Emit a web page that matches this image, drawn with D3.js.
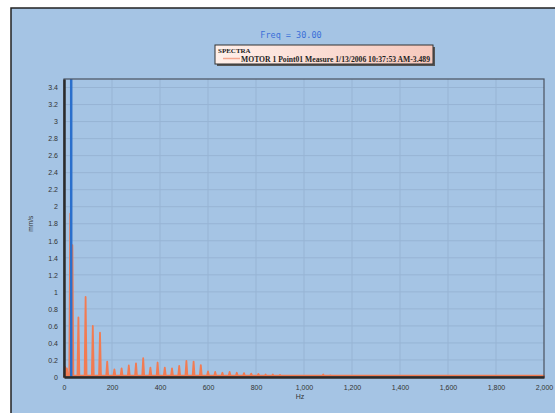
<!DOCTYPE html>
<html>
<head>
<meta charset="utf-8">
<script src="https://cdn.jsdelivr.net/npm/d3@7"></script>
<style>
  body { margin: 0; background: #fff; }
  svg { display: block; }
  .tick text { font-family: "Liberation Sans", Arial, sans-serif; font-size: 7px; fill: #333; }
</style>
</head>
<body>
<svg id="chart" width="555" height="413"></svg>
<script>
// spectrum peaks, Hz / amplitude
var peakFreqs = [5, 12, 26, 35, 60, 90, 120, 150, 180, 210, 240, 270, 300, 330, 360, 390, 420, 450, 480, 510, 540, 570,
                 600, 630, 660, 690, 720, 750, 780, 810, 840, 870, 900, 1080, 1110];
var peakAmps = [0.12, 0.10, 1.92, 1.55, 0.70, 0.94, 0.60, 0.52, 0.18, 0.09, 0.10, 0.135, 0.16, 0.22, 0.11, 0.17, 0.11, 0.10, 0.13, 0.19, 0.18, 0.14,
                0.065, 0.06, 0.05, 0.06, 0.05, 0.045, 0.04, 0.035, 0.03, 0.03, 0.025, 0.03, 0.02];
var baseline = 0.015;
var markerFreq = 30;
var xTicks = [0, 200, 400, 600, 800, 1000, 1200, 1400, 1600, 1800, 2000];
var yTicks = [0, 0.2, 0.4, 0.6, 0.8, 1, 1.2, 1.4, 1.6, 1.8, 2, 2.2, 2.4, 2.6, 2.8, 3, 3.2, 3.4];

var svg = d3.select("#chart");
var margin = { top: 79, right: 11, bottom: 36, left: 64 };
var width = 555 - margin.left - margin.right;
var height = 413 - margin.top - margin.bottom;

// outer panel
svg.append("rect").attr("x", 11).attr("y", 8).attr("width", 555).attr("height", 420)
    .attr("fill", "#a5c4e4").attr("stroke", "#222").attr("stroke-width", 1.5);

var xScale = d3.scaleLinear().domain([0, 2000]).range([0, width]);
var yScale = d3.scaleLinear().domain([0, 3.5]).range([height, 0]);

var g = svg.append("g").attr("transform", "translate(" + margin.left + "," + margin.top + ")");

// grid
g.append("g").selectAll("line").data(yTicks.slice(1)).enter().append("line")
    .attr("x1", 0).attr("x2", width)
    .attr("y1", function (d) { return yScale(d); }).attr("y2", function (d) { return yScale(d); })
    .attr("stroke", "#97b4d4").attr("stroke-width", 1);
g.append("g").selectAll("line").data(xTicks.slice(1, -1)).enter().append("line")
    .attr("y1", 0).attr("y2", height)
    .attr("x1", function (d) { return xScale(d); }).attr("x2", function (d) { return xScale(d); })
    .attr("stroke", "#97b4d4").attr("stroke-width", 1);

// spectrum: each peak is a narrow spike on the baseline
var pts = [[0, baseline]];
peakFreqs.forEach(function (f, i) {
    pts.push([f - 4, baseline]);
    pts.push([f, peakAmps[i]]);
    pts.push([f + 4, baseline]);
});
pts.push([2000, baseline]);

var area = d3.area()
    .x(function (d) { return xScale(d[0]); })
    .y0(height)
    .y1(function (d) { return yScale(d[1]); });
g.append("path").datum(pts).attr("d", area)
    .attr("fill", "#f27b52").attr("stroke", "#f27b52").attr("stroke-width", 1.8).attr("stroke-linejoin", "round");

// marker line
g.append("line")
    .attr("x1", xScale(markerFreq)).attr("x2", xScale(markerFreq))
    .attr("y1", 0).attr("y2", height)
    .attr("stroke", "#2a6fcc").attr("stroke-width", 2.5);

// frame
g.append("rect").attr("width", width).attr("height", height)
    .attr("fill", "none").attr("stroke", "#4a5260").attr("stroke-width", 1.2);

// axes
var xAxis = d3.axisBottom(xScale).tickValues(xTicks).tickSize(0).tickPadding(8).tickFormat(d3.format(","));
var yAxis = d3.axisLeft(yScale).tickValues(yTicks).tickSize(0).tickPadding(6).tickFormat(d3.format("~g"));

g.append("g").attr("class", "axis axis-x").attr("transform", "translate(0," + height + ")").call(xAxis)
    .select(".domain").attr("stroke", "#2b2b2b").attr("stroke-width", 2.5);
g.append("g").attr("class", "axis axis-y").call(yAxis)
    .select(".domain").attr("stroke", "#2b2b2b").attr("stroke-width", 2.5);

g.append("text").attr("x", width / 2 - 4).attr("y", height + 22)
    .attr("text-anchor", "middle").attr("font-family", "Liberation Sans, Arial, sans-serif")
    .attr("font-size", 7).attr("fill", "#333").text("Hz");
g.append("text").attr("transform", "translate(-31," + yScale(1.8) + ") rotate(-90)")
    .attr("text-anchor", "middle").attr("font-family", "Liberation Sans, Arial, sans-serif")
    .attr("font-size", 6.5).attr("fill", "#333").text("mm/s");

// title
svg.append("text").attr("x", 291).attr("y", 38).attr("text-anchor", "middle")
    .attr("font-family", "DejaVu Sans Mono, monospace").attr("font-size", 8.5)
    .attr("fill", "#3a6fd8").text("Freq = 30.00");

// legend
var grad = svg.append("defs").append("linearGradient").attr("id", "lg").attr("x1", 0).attr("x2", 1);
grad.append("stop").attr("offset", "0%").attr("stop-color", "#fff0ea");
grad.append("stop").attr("offset", "100%").attr("stop-color", "#f6c8bc");
var leg = svg.append("g").attr("transform", "translate(215,45)");
leg.append("rect").attr("x", 2).attr("y", 2).attr("width", 218).attr("height", 19).attr("fill", "#555");
leg.append("rect").attr("width", 218).attr("height", 19).attr("fill", "url(#lg)")
    .attr("stroke", "#333").attr("stroke-width", 1);
leg.append("text").attr("x", 3).attr("y", 8).attr("font-family", "Liberation Serif, serif")
    .attr("font-size", 7).attr("font-weight", "bold").attr("fill", "#222").text("SPECTRA");
leg.append("line").attr("x1", 8).attr("x2", 25).attr("y1", 13.5).attr("y2", 13.5)
    .attr("stroke", "#f4a890").attr("stroke-width", 1.5);
leg.append("text").attr("x", 26).attr("y", 16.5).attr("font-family", "Liberation Serif, serif")
    .attr("font-size", 7.6).attr("font-weight", "bold").attr("fill", "#222")
    .attr("textLength", 189).attr("lengthAdjust", "spacingAndGlyphs")
    .text("MOTOR 1 Point01 Measure 1/13/2006 10:37:53 AM-3.489");
</script>
</body>
</html>
